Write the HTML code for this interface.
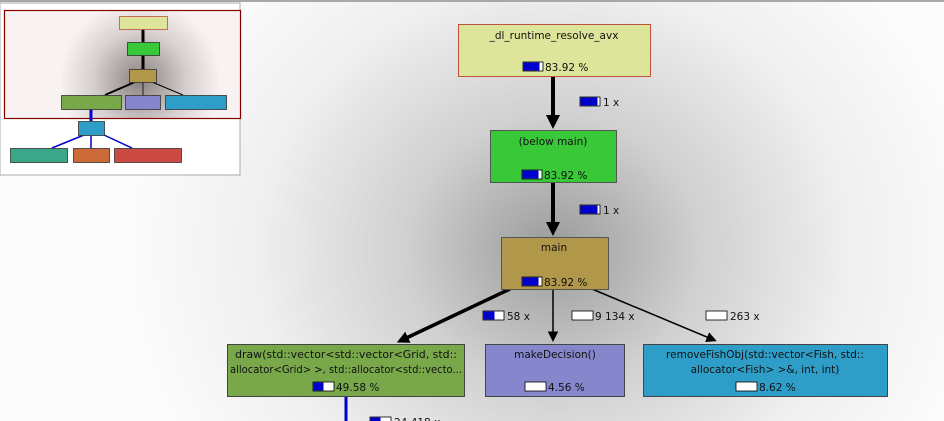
<!DOCTYPE html>
<html><head><style>
html,body{margin:0;padding:0;width:944px;height:421px;overflow:hidden;background:#fff}
svg{display:block}
text{font-family:"DejaVu Sans","Liberation Sans",sans-serif;font-size:10.5px;fill:#111}
</style></head><body>
<svg width="944" height="421" viewBox="0 0 944 421">
<defs>
<radialGradient id="bg" cx="553" cy="250" r="420" gradientUnits="userSpaceOnUse" gradientTransform="translate(553 250) scale(1 0.9) translate(-553 -250)">
<stop offset="0" stop-color="#9a9a9a"/>
<stop offset="0.35" stop-color="#d0d0d0"/>
<stop offset="0.7" stop-color="#efefef"/>
<stop offset="1" stop-color="#fbfbfb"/>
</radialGradient>
<radialGradient id="mg" cx="140" cy="80" r="80" gradientUnits="userSpaceOnUse">
<stop offset="0" stop-color="#8a8080"/>
<stop offset="0.6" stop-color="#d8d0d0"/>
<stop offset="1" stop-color="#f8f2f2"/>
</radialGradient>
<marker id="ah" markerWidth="3.5" markerHeight="3.5" refX="2.5" refY="1.75" orient="auto" markerUnits="strokeWidth"><path d="M0,0 L3.5,1.75 L0,3.5 z" fill="#000"/></marker>
<marker id="ah2" markerWidth="7" markerHeight="7" refX="5" refY="3.5" orient="auto" markerUnits="strokeWidth"><path d="M0,0 L7,3.5 L0,7 z" fill="#000"/></marker>
</defs>
<rect width="944" height="421" fill="url(#bg)"/>
<rect x="0" y="0" width="944" height="2" fill="#a8a8a8"/>

<line x1="553" y1="76" x2="553" y2="125" stroke="#000" stroke-width="4" marker-end="url(#ah)"/>
<line x1="553" y1="182" x2="553" y2="232" stroke="#000" stroke-width="4" marker-end="url(#ah)"/>
<line x1="510" y1="289" x2="400" y2="341" stroke="#000" stroke-width="3.5" marker-end="url(#ah)"/>
<line x1="553" y1="289" x2="553" y2="339" stroke="#000" stroke-width="1.5" marker-end="url(#ah2)"/>
<line x1="592" y1="289" x2="714" y2="340" stroke="#000" stroke-width="1.5" marker-end="url(#ah2)"/>
<line x1="346" y1="397" x2="346" y2="421" stroke="#0000cc" stroke-width="3"/>

<g>
<rect x="580" y="97" width="20" height="9" fill="#fff" stroke="#000" stroke-width="0.8"/><rect x="580.5" y="97.5" width="17" height="8" fill="#0000cc"/><text x="603" y="106">1 x</text>
<rect x="580" y="205" width="20" height="9" fill="#fff" stroke="#000" stroke-width="0.8"/><rect x="580.5" y="205.5" width="17" height="8" fill="#0000cc"/><text x="603" y="214">1 x</text>
<rect x="483" y="311" width="21" height="9" fill="#fff" stroke="#000" stroke-width="0.8"/><rect x="483.5" y="311.5" width="11" height="8" fill="#0000cc"/><text x="507" y="320">58 x</text>
<rect x="572" y="311" width="21" height="9" fill="#fff" stroke="#000" stroke-width="0.8"/><text x="595" y="320">9 134 x</text>
<rect x="706" y="311" width="21" height="9" fill="#fff" stroke="#000" stroke-width="0.8"/><text x="730" y="320">263 x</text>
<rect x="370" y="417" width="21" height="9" fill="#fff" stroke="#000" stroke-width="0.8"/><rect x="370.5" y="417.5" width="10" height="8" fill="#0000cc"/><text x="394" y="426">24 418 x</text>
</g>

<rect x="458.5" y="24.5" width="192" height="52" fill="#dde59a" stroke="#c05040"/>
<text x="554" y="39" text-anchor="middle">_dl_runtime_resolve_avx</text>
<rect x="523" y="62" width="20" height="9" fill="#fff" stroke="#000" stroke-width="0.8"/><rect x="523.5" y="62.5" width="16" height="8" fill="#0000cc"/><text x="545" y="71">83.92 %</text>

<rect x="490.5" y="130.5" width="126" height="52" fill="#38c838" stroke="#555"/>
<text x="553" y="145" text-anchor="middle">(below main)</text>
<rect x="522" y="170" width="20" height="9" fill="#fff" stroke="#000" stroke-width="0.8"/><rect x="522.5" y="170.5" width="16" height="8" fill="#0000cc"/><text x="544" y="179">83.92 %</text>

<rect x="501.5" y="237.5" width="107" height="52" fill="#b0974a" stroke="#555"/>
<text x="554" y="251" text-anchor="middle">main</text>
<rect x="522" y="277" width="20" height="9" fill="#fff" stroke="#000" stroke-width="0.8"/><rect x="522.5" y="277.5" width="16" height="8" fill="#0000cc"/><text x="544" y="286">83.92 %</text>

<rect x="227.5" y="344.5" width="237" height="52" fill="#78a84a" stroke="#444"/>
<text x="346" y="358" text-anchor="middle" textLength="222" lengthAdjust="spacingAndGlyphs">draw(std::vector&lt;std::vector&lt;Grid, std::</text>
<text x="346" y="373" text-anchor="middle" textLength="232" lengthAdjust="spacingAndGlyphs">allocator&lt;Grid&gt; &gt;, std::allocator&lt;std::vecto...</text>
<rect x="313" y="382" width="21" height="9" fill="#fff" stroke="#000" stroke-width="0.8"/><rect x="313.5" y="382.5" width="10" height="8" fill="#0000cc"/><text x="336" y="391">49.58 %</text>

<rect x="485.5" y="344.5" width="139" height="52" fill="#8686cc" stroke="#444"/>
<text x="555" y="358" text-anchor="middle">makeDecision()</text>
<rect x="525" y="382" width="21" height="9" fill="#fff" stroke="#000" stroke-width="0.8"/><text x="548" y="391">4.56 %</text>

<rect x="643.5" y="344.5" width="244" height="52" fill="#2e9ec8" stroke="#444"/>
<text x="765" y="358" text-anchor="middle">removeFishObj(std::vector&lt;Fish, std::</text>
<text x="765" y="373" text-anchor="middle">allocator&lt;Fish&gt; &gt;&amp;, int, int)</text>
<rect x="736" y="382" width="21" height="9" fill="#fff" stroke="#000" stroke-width="0.8"/><text x="759" y="391">8.62 %</text>

<rect x="0" y="3" width="240" height="172" fill="#fff" stroke="#aaa"/>
<rect x="4" y="10" width="236" height="108" fill="#f8f2f2"/>
<rect x="4" y="10" width="236" height="108" fill="url(#mg)"/>
<rect x="4.5" y="10.5" width="236" height="108" fill="none" stroke="#800000" stroke-width="1.2"/>
<g stroke="#000">
<line x1="143" y1="29" x2="143" y2="42" stroke-width="3"/>
<line x1="143" y1="55" x2="143" y2="69" stroke-width="3"/>
<line x1="135" y1="82" x2="105" y2="95" stroke-width="2"/>
<line x1="143" y1="82" x2="143" y2="95" stroke-width="0.8"/>
<line x1="152" y1="82" x2="183" y2="95" stroke-width="1"/>
</g>
<g stroke="#0000cc" stroke-width="1.5">
<line x1="91" y1="109" x2="91" y2="121" stroke-width="3"/>
<line x1="84" y1="135" x2="52" y2="148"/>
<line x1="91" y1="135" x2="91" y2="148"/>
<line x1="104" y1="135" x2="132" y2="148"/>
</g>
<g stroke="#333" stroke-width="0.8">
<rect x="119.5" y="16.5" width="48" height="13" fill="#dde59a" stroke="#c05040"/>
<rect x="127.5" y="42.5" width="32" height="13" fill="#38c838"/>
<rect x="129.5" y="69.5" width="27" height="13" fill="#b0974a"/>
<rect x="61.5" y="95.5" width="60" height="14" fill="#78a84a"/>
<rect x="125.5" y="95.5" width="35" height="14" fill="#8686cc"/>
<rect x="165.5" y="95.5" width="61" height="14" fill="#2e9ec8"/>
<rect x="78.5" y="121.5" width="26" height="14" fill="#2e9ec8"/>
<rect x="10.5" y="148.5" width="57" height="14" fill="#3aa888"/>
<rect x="73.5" y="148.5" width="36" height="14" fill="#cc6a38"/>
<rect x="114.5" y="148.5" width="67" height="14" fill="#cc4a44"/>
</g>
</svg>
</body></html>
